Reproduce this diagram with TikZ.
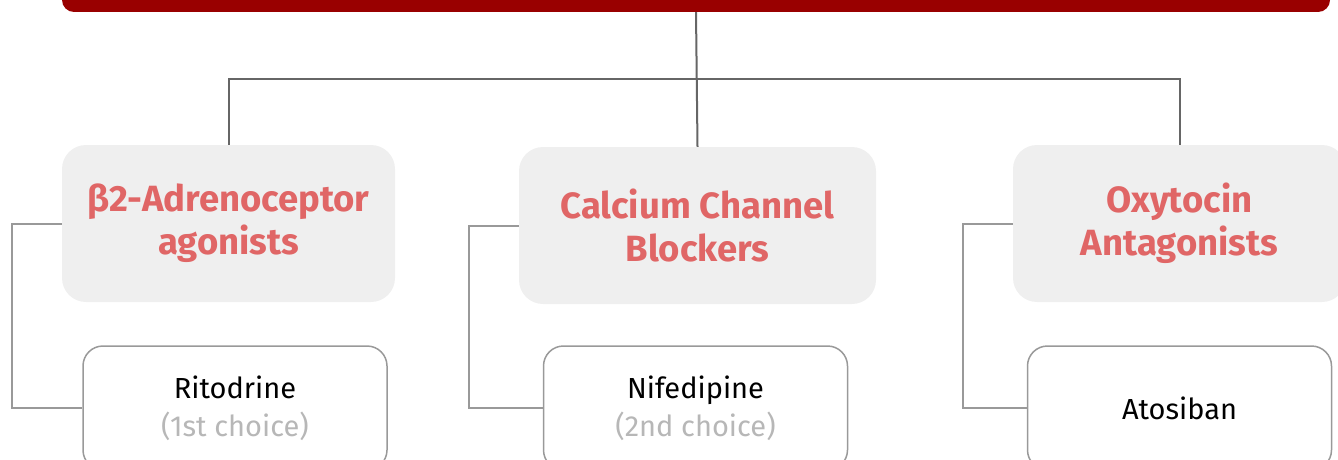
\documentclass[tikz,border=0pt]{standalone}
\usepackage{fontspec}
\setmainfont{Fira Sans}
\usetikzlibrary{positioning}

\definecolor{topred}{HTML}{990000}
\definecolor{headred}{HTML}{E06666}
\definecolor{boxgray}{HTML}{EFEFEF}
\definecolor{linegray}{HTML}{999999}
\definecolor{darkline}{HTML}{666666}
\definecolor{choicegray}{HTML}{B7B7B7}

\tikzset{
  classbox/.style={fill=boxgray, rounded corners=24pt, minimum width=333pt, minimum height=157pt,
    align=center, text=headred, font=\fontsize{36.5}{43}\selectfont\bfseries},
  drugbox/.style={draw=linegray, line width=1.5pt, fill=white, rounded corners=20pt,
    minimum width=304pt, minimum height=124pt, align=center, font=\fontsize{29}{38}\selectfont},
  trunk/.style={draw=darkline, line width=2pt},
  branch/.style={draw=linegray, line width=2pt}
}

\begin{document}
\begin{tikzpicture}[x=1pt, y=-1pt]
    % ==== Canvas ====
    \useasboundingbox (0,0) rectangle (1338,460);
    \clip (0,0) rectangle (1338,460);

    % Title bar (only its lower edge is visible)
    \node[fill=topred, rounded corners=12pt, minimum width=1268pt, minimum height=84pt] (top) at (696,-30) {};

    % Drug classes
    \node[classbox] (beta) at (228.5,223.5) {β2-Adrenoceptor\\agonists};
    \node[classbox, minimum width=357pt] (ccb) at (697.5,225.5) {Calcium Channel\\Blockers};
    \node[classbox] (oxy) at (1179.5,223.5) {Oxytocin\\Antagonists};

    % Drugs
    \node[drugbox] (rito) at (235,408) {Ritodrine\\{\color{choicegray}(1st choice)}};
    \node[drugbox] (nife) at (695.5,408) {Nifedipine\\{\color{choicegray}(2nd choice)}};
    \node[drugbox] (atos) at (1179.5,408) {Atosiban};

    % Tree from the title bar
    \coordinate (hub) at (top.south |- 0,79);
    \draw[trunk] (top.south) -- (ccb.north);
    \draw[trunk] (beta.north) |- (hub) -| (oxy.north);

    % Class -> drug elbows
    \foreach \c/\d in {beta/rito, ccb/nife, oxy/atos}{
        \draw[branch] (\c.west) -- ++(-50,0) |- (\d.west);
      }
  \end{tikzpicture}
\end{document}
